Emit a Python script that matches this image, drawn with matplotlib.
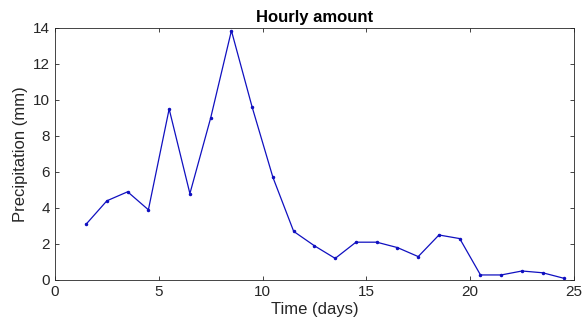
import matplotlib
matplotlib.use("Agg")
import matplotlib.pyplot as plt

# Hourly precipitation
days = [1.5, 2.5, 3.5, 4.5, 5.5, 6.5, 7.5, 8.5, 9.5, 10.5, 11.5, 12.5,
        13.5, 14.5, 15.5, 16.5, 17.5, 18.5, 19.5, 20.5, 21.5, 22.5, 23.5, 24.5]
precip = [3.1, 4.4, 4.9, 3.9, 9.5, 4.8, 9.0, 13.85, 9.6, 5.7, 2.7, 1.9,
          1.2, 2.1, 2.1, 1.8, 1.3, 2.5, 2.3, 0.28, 0.28, 0.5, 0.4, 0.1]
xticks = [0, 5, 10, 15, 20, 25]
yticks = [0, 2, 4, 6, 8, 10, 12, 14]

plt.rcParams['font.family'] = ['Arial', 'Liberation Sans', 'DejaVu Sans']

fig = plt.figure(figsize=(5.85, 3.36), dpi=100)
ax = fig.add_axes([0.094, 0.1667, 0.887, 0.75])

ax.plot(days, precip, color='#1010c0', linewidth=0.9, marker='.', markersize=3)

ax.set_xlim(0, 25)
ax.set_ylim(0, 14)
ax.set_xticks(xticks)
ax.set_yticks(yticks)
ax.tick_params(direction='in', top=True, right=True, length=3,
               labelsize=11, colors='#262626', width=0.6)
for s in ax.spines.values():
    s.set_color('#262626')
    s.set_linewidth(0.6)

ax.set_xlabel('Time (days)', fontsize=12, color='#262626', labelpad=2)
ax.set_ylabel('Precipitation (mm)', fontsize=12, color='#262626', labelpad=4)
ax.set_title('Hourly amount', fontsize=12, fontweight='bold', pad=4)

fig.savefig('out.png', dpi=100)
